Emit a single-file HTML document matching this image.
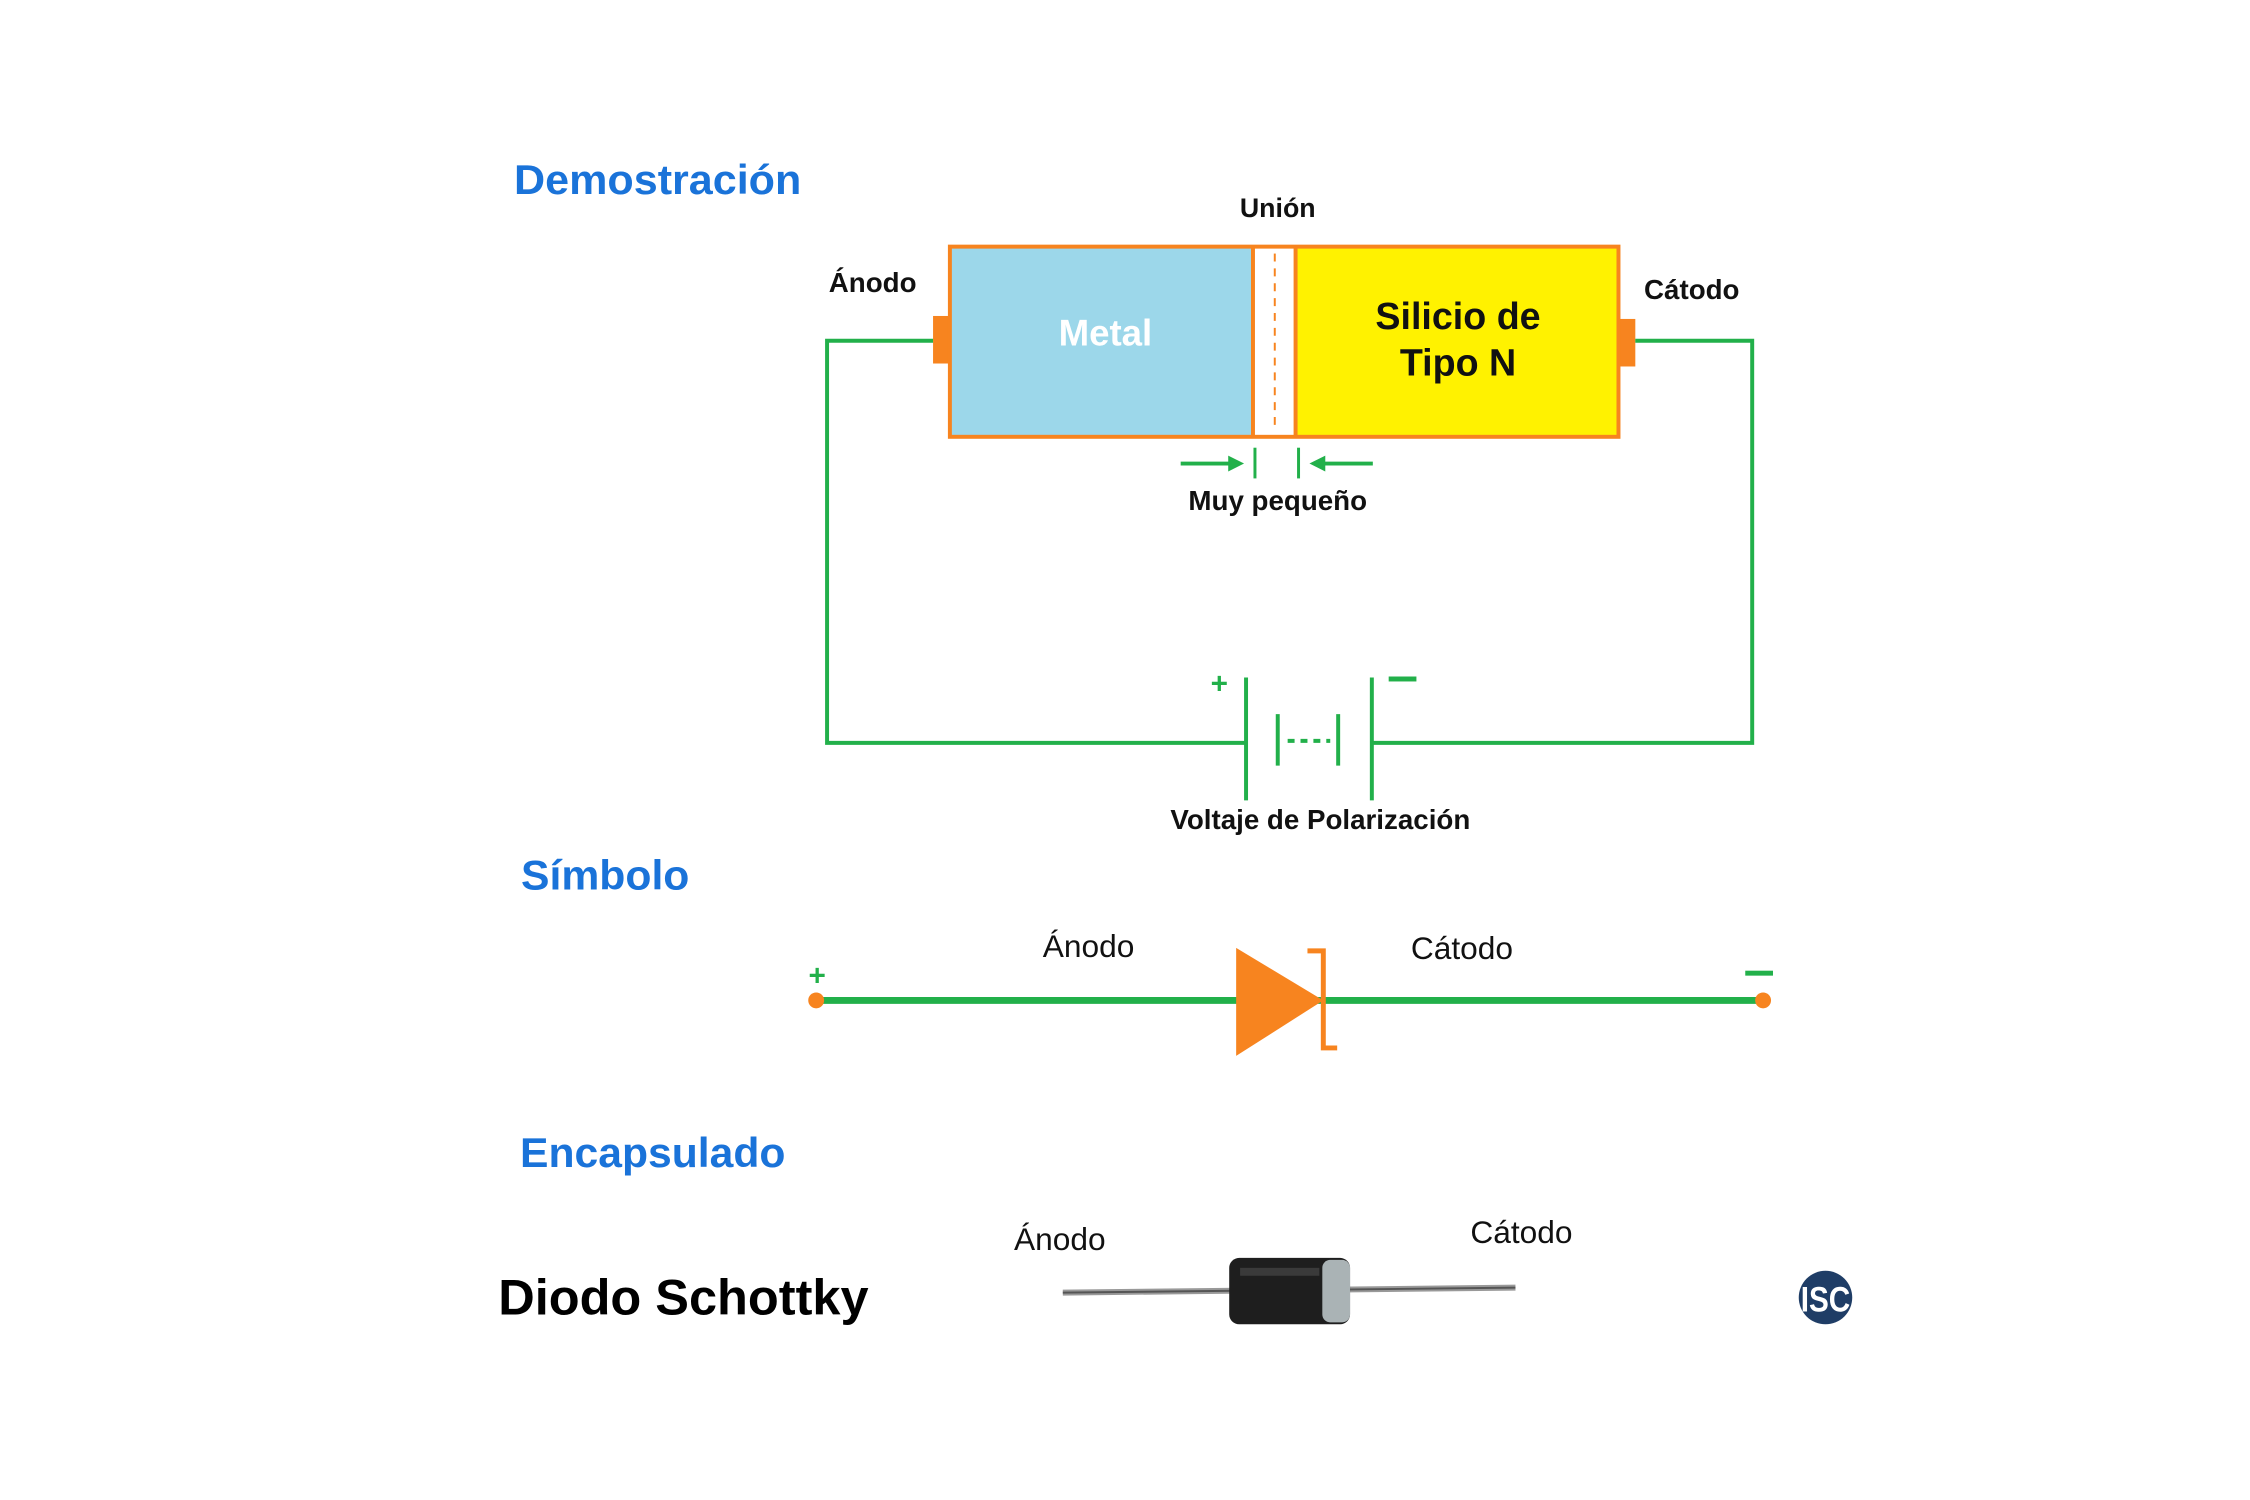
<!DOCTYPE html>
<html><head><meta charset="utf-8"><style>
html,body{margin:0;padding:0;background:#fff;}
svg{display:block;}
</style></head><body>
<svg width="2250" height="1500" viewBox="0 0 2250 1500" xmlns="http://www.w3.org/2000/svg" font-family="Liberation Sans, Arial, sans-serif">
<rect width="2250" height="1500" fill="#fff"/>
<g transform="scale(0.9905)">
<text x="519" y="196" font-size="42" font-weight="bold" fill="#1a73d9" textLength="290" lengthAdjust="spacingAndGlyphs">Demostración</text>
<text x="1290" y="219" font-size="27" font-weight="bold" text-anchor="middle" fill="#111">Unión</text>
<g>
<rect x="942" y="319" width="17" height="48" fill="#f7841f"/>
<rect x="1634" y="322" width="17" height="48" fill="#f7841f"/>
<rect x="959" y="249" width="306" height="192" fill="#9cd7ea"/>
<rect x="1265" y="249" width="43" height="192" fill="#fff"/>
<rect x="1308" y="249" width="326" height="192" fill="#fff200"/>
<rect x="959" y="249" width="675" height="192" fill="none" stroke="#f7841f" stroke-width="4"/>
<line x1="1265" y1="249" x2="1265" y2="441" stroke="#f7841f" stroke-width="4"/>
<line x1="1308" y1="249" x2="1308" y2="441" stroke="#f7841f" stroke-width="4"/>
<line x1="1287" y1="256" x2="1287" y2="434" stroke="#f7841f" stroke-width="2" stroke-dasharray="8,7"/>
<text x="1116" y="349" font-size="37" font-weight="bold" fill="#fff" text-anchor="middle">Metal</text>
<text x="1472" y="332" font-size="38" font-weight="bold" fill="#111" text-anchor="middle">Silicio de</text>
<text x="1472" y="379" font-size="38" font-weight="bold" fill="#111" text-anchor="middle">Tipo N</text>
</g>
<text x="881" y="295" font-size="28" font-weight="bold" text-anchor="middle" fill="#111">Ánodo</text>
<text x="1708" y="302" font-size="28" font-weight="bold" text-anchor="middle" fill="#111">Cátodo</text>
<g stroke="#22b04a" stroke-width="4" fill="none">
<polyline points="942,344 835,344 835,750 1258,750"/>
<polyline points="1651,344 1769,344 1769,750 1385,750"/>
<line x1="1258" y1="684" x2="1258" y2="808"/>
<line x1="1385" y1="684" x2="1385" y2="808"/>
<line x1="1290" y1="721" x2="1290" y2="773"/>
<line x1="1351" y1="721" x2="1351" y2="773"/>
<line x1="1300" y1="748" x2="1343" y2="748" stroke-dasharray="7,6"/>
<line x1="1192" y1="468" x2="1242" y2="468"/>
<line x1="1386" y1="468" x2="1336" y2="468"/>
<line x1="1267" y1="452" x2="1267" y2="483" stroke-width="3"/>
<line x1="1311" y1="452" x2="1311" y2="483" stroke-width="3"/>
</g>
<polygon points="1256,468 1240,460 1240,476" fill="#22b04a"/>
<polygon points="1322,468 1338,460 1338,476" fill="#22b04a"/>
<text x="1231" y="700" font-size="30" font-weight="bold" fill="#22b04a" text-anchor="middle">+</text>
<rect x="1402" y="683" width="28" height="5" fill="#22b04a"/>
<text x="1290" y="515" font-size="28" font-weight="bold" text-anchor="middle" fill="#111">Muy pequeño</text>
<text x="1333" y="837" font-size="28" font-weight="bold" text-anchor="middle" fill="#111">Voltaje de Polarización</text>
<text x="526" y="898" font-size="42" font-weight="bold" fill="#1a73d9" textLength="170" lengthAdjust="spacingAndGlyphs">Símbolo</text>
<g>
<line x1="824" y1="1010" x2="1780" y2="1010" stroke="#22b04a" stroke-width="7"/>
<circle cx="824" cy="1010" r="8" fill="#f7841f"/>
<circle cx="1780" cy="1010" r="8" fill="#f7841f"/>
<polygon points="1248,957 1248,1066 1336,1010" fill="#f7841f"/>
<polyline points="1320,960 1336,960 1336,1058 1350,1058" fill="none" stroke="#f7841f" stroke-width="5"/>
<text x="825" y="995" font-size="30" font-weight="bold" fill="#22b04a" text-anchor="middle">+</text>
<rect x="1762" y="980" width="28" height="5" fill="#22b04a"/>
</g>
<text x="1099" y="966" font-size="32" text-anchor="middle" fill="#111">Ánodo</text>
<text x="1476" y="968" font-size="32" text-anchor="middle" fill="#111">Cátodo</text>
<text x="525" y="1178" font-size="42" font-weight="bold" fill="#1a73d9" textLength="268" lengthAdjust="spacingAndGlyphs">Encapsulado</text>
<text x="1070" y="1262" font-size="32" text-anchor="middle" fill="#111">Ánodo</text>
<text x="1536" y="1255" font-size="32" text-anchor="middle" fill="#111">Cátodo</text>
<g>
<line x1="1073" y1="1305" x2="1530" y2="1300" stroke="#999" stroke-width="6"/>
<line x1="1073" y1="1305" x2="1530" y2="1300" stroke="#555" stroke-width="2"/>
<rect x="1241" y="1270" width="122" height="67" rx="10" fill="#1e1e1e"/>
<rect x="1335" y="1272" width="28" height="63" rx="8" fill="#aab3b5"/>
<rect x="1252" y="1280" width="80" height="8" fill="#555" opacity="0.5"/>
</g>
<text x="503" y="1327" font-size="51" font-weight="bold" fill="#000">Diodo Schottky</text>
<g>
<circle cx="1843" cy="1310" r="27" fill="#1f3d66"/>
<text x="1843" y="1324" font-size="36" font-weight="bold" fill="#fff" text-anchor="middle" textLength="50" lengthAdjust="spacingAndGlyphs">ISC</text>
</g>
</g>
</svg>
</body></html>
